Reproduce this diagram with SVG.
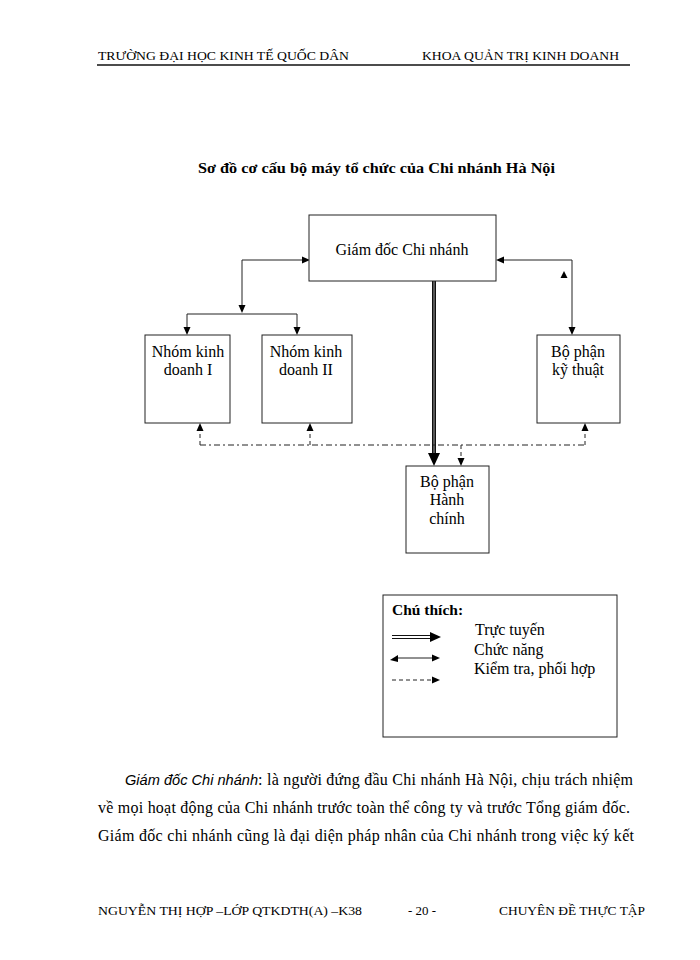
<svg xmlns="http://www.w3.org/2000/svg" width="700" height="960" viewBox="0 0 700 960">
<defs>
<style>
.t{font-family:"Liberation Serif","Times New Roman",serif;fill:#000}
.hd{font-size:13px}
.nd{font-size:16px;text-anchor:middle}
.lg{font-size:16px}
.box{fill:#fff;stroke:#222;stroke-width:1}
.ln{fill:none;stroke:#222;stroke-width:1}
.dd{fill:none;stroke:#222;stroke-width:1;stroke-dasharray:6,3,2,3}
.ds{fill:none;stroke:#222;stroke-width:1;stroke-dasharray:4,3}
.ah{fill:#000}
</style>
</defs>
<rect width="700" height="960" fill="#fff"/>
<g id="header">
<text class="t hd" x="98" y="60" textLength="251" lengthAdjust="spacingAndGlyphs">TRƯỜNG ĐẠI HỌC KINH TẾ QUỐC DÂN</text>
<text class="t hd" x="422" y="60" textLength="197" lengthAdjust="spacingAndGlyphs">KHOA QUẢN TRỊ KINH DOANH</text>
<line x1="97" y1="65" x2="630" y2="65" stroke="#111" stroke-width="1.6"/>
</g>
<text id="title" class="t" x="198" y="173" font-size="15" font-weight="bold" textLength="357" lengthAdjust="spacingAndGlyphs">Sơ đồ cơ cấu bộ máy tổ chức của Chi nhánh Hà Nội</text>
<g id="connectors">
<polyline class="ln" points="303,260 242,260 242,306"/>
<polygon class="ah" points="310,260 302,256.5 302,263.5"/>
<polygon class="ah" points="242,313 238.5,305 245.5,305"/>
<polyline class="ln" points="187,328 187,314 297,314 297,328"/>
<polygon class="ah" points="187,335 183.5,327 190.5,327"/>
<polygon class="ah" points="297,335 293.5,327 300.5,327"/>
<polyline class="ln" points="503,260 572,260 572,328"/>
<polygon class="ah" points="496,260 504,256.5 504,263.5"/>
<polygon class="ah" points="572,335 568.5,327 575.5,327"/>
<polygon class="ah" points="564,271 560.5,278 567.5,278"/>
<line x1="434" y1="281" x2="434" y2="454" stroke="#111" stroke-width="4"/>
<line x1="434" y1="281" x2="434" y2="454" stroke="#888" stroke-width="1.2"/>
<polygon class="ah" points="434,466 428,453 440,453"/>
<line class="dd" x1="200" y1="445" x2="586" y2="445"/>
<line class="ds" x1="200" y1="445" x2="200" y2="430"/>
<polygon class="ah" points="200,423 196.5,431 203.5,431"/>
<line class="ds" x1="310" y1="445" x2="310" y2="430"/>
<polygon class="ah" points="310,423 306.5,431 313.5,431"/>
<line class="ds" x1="585" y1="445" x2="585" y2="430"/>
<polygon class="ah" points="585,423 581.5,431 588.5,431"/>
<line class="ds" x1="461" y1="445" x2="461" y2="459"/>
<polygon class="ah" points="461,466 457.5,458 464.5,458"/>
</g>
<g id="n-giamdoc">
<rect class="box" x="309" y="215" width="187" height="66"/>
<text class="t nd" x="402" y="255">Giám đốc Chi nhánh</text>
</g>
<g id="n-nhom1">
<rect class="box" x="145" y="335" width="85" height="88"/>
<text class="t nd" x="188" y="357">Nhóm kinh</text>
<text class="t nd" x="188" y="375">doanh I</text>
</g>
<g id="n-nhom2">
<rect class="box" x="262" y="335" width="90" height="88"/>
<text class="t nd" x="306" y="357">Nhóm kinh</text>
<text class="t nd" x="306" y="375">doanh II</text>
</g>
<g id="n-kythuat">
<rect class="box" x="537" y="335" width="83" height="88"/>
<text class="t nd" x="578" y="357">Bộ phận</text>
<text class="t nd" x="578" y="375">kỹ thuật</text>
</g>
<g id="n-hanhchinh">
<rect class="box" x="406" y="466" width="83" height="87"/>
<text class="t nd" x="447" y="487">Bộ phận</text>
<text class="t nd" x="447" y="505">Hành</text>
<text class="t nd" x="447" y="524">chính</text>
</g>
<g id="legend">
<rect class="box" x="383" y="595" width="234" height="142"/>
<text class="t" x="392" y="615" font-size="15.5" font-weight="bold">Chú thích:</text>
<line x1="392" y1="635.5" x2="432" y2="635.5" stroke="#111" stroke-width="1"/>
<line x1="392" y1="638.5" x2="432" y2="638.5" stroke="#111" stroke-width="1"/>
<polygon class="ah" points="441,637 430,632 430,642"/>
<text class="t lg" x="475" y="635">Trực tuyến</text>
<line class="ln" x1="397" y1="658" x2="434" y2="658"/>
<polygon class="ah" points="440,658 432,654.5 432,661.5"/>
<polygon class="ah" points="390,660 398,655 398,662"/>
<text class="t lg" x="474" y="655">Chức năng</text>
<line class="ds" x1="392" y1="680" x2="434" y2="680"/>
<polygon class="ah" points="440,680 432,676.5 432,683.5"/>
<text class="t lg" x="474" y="674">Kiểm tra, phối hợp</text>
</g>
<g id="paragraph">
<text x="125" y="785" font-family="Liberation Sans, Arial, sans-serif" font-style="italic" font-size="15" fill="#000" textLength="133" lengthAdjust="spacingAndGlyphs">Giám đốc Chi nhánh</text>
<text class="t" x="258" y="785" font-size="16" textLength="375" lengthAdjust="spacing">: là người đứng đầu Chi nhánh Hà Nội, chịu trách nhiệm</text>
<text class="t" x="98" y="813" font-size="16" textLength="532" lengthAdjust="spacing">về mọi hoạt động của Chi nhánh trước toàn thể công ty và trước Tổng giám đốc.</text>
<text class="t" x="98" y="841" font-size="16" textLength="536" lengthAdjust="spacing">Giám đốc chi nhánh cũng là đại diện pháp nhân của Chi nhánh trong việc ký kết</text>
</g>
<g id="footer">
<text class="t hd" x="98" y="915" textLength="264" lengthAdjust="spacingAndGlyphs">NGUYỄN THỊ HỢP –LỚP QTKDTH(A) –K38</text>
<text class="t hd" x="408" y="915" textLength="28" lengthAdjust="spacingAndGlyphs">- 20 -</text>
<text class="t hd" x="499" y="915" textLength="146" lengthAdjust="spacingAndGlyphs">CHUYÊN ĐỀ THỰC TẬP</text>
</g>
</svg>
